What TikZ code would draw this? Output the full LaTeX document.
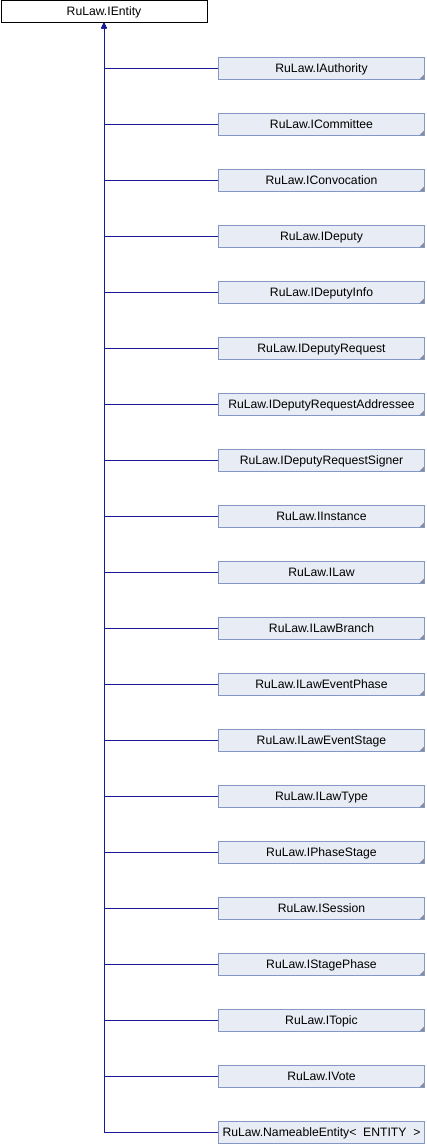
\documentclass[tikz,border=0pt]{standalone}
\usepackage{fontspec}
\setmainfont{Liberation Sans}
\usetikzlibrary{arrows.meta}
\begin{document}
\begin{tikzpicture}[x=1pt,y=-1pt]

  \tikzstyle{base} = [draw=black, fill=white, line width=1pt, minimum width=206pt, minimum height=22pt, inner sep=0pt, text height=8.8pt, text depth=0pt, font=\fontsize{12.2}{14}\selectfont]
  \tikzstyle{iface} = [base, draw=border, fill=boxfill,
    path picture={\fill[corner] (path picture bounding box.south east) -- ++(-5pt,0pt) -- ++(5pt,5pt) -- cycle;}]
  \tikzstyle{edge} = [line width=1pt, lines, -{Triangle[length=5pt,width=5pt]}]

  \definecolor{boxfill}{RGB}{232,236,244}
  \definecolor{border}{RGB}{132,152,200}
  \definecolor{corner}{RGB}{130,140,165}
  \definecolor{lines}{RGB}{25,25,150}

  \useasboundingbox (0,0) rectangle (426,1144);

  \node[base] (entity) at (104,11.5) {RuLaw.IEntity};

  \node[iface] (authority) at (321.5,68) {RuLaw.IAuthority};
  \node[iface] (committee) at (321.5,124) {RuLaw.ICommittee};
  \node[iface] (convocation) at (321.5,180) {RuLaw.IConvocation};
  \node[iface] (deputy) at (321.5,236) {RuLaw.IDeputy};
  \node[iface] (deputyinfo) at (321.5,292) {RuLaw.IDeputyInfo};
  \node[iface] (deputyrequest) at (321.5,348) {RuLaw.IDeputyRequest};
  \node[iface] (addressee) at (321.5,404) {RuLaw.IDeputyRequestAddressee};
  \node[iface] (signer) at (321.5,460) {RuLaw.IDeputyRequestSigner};
  \node[iface] (instance) at (321.5,516) {RuLaw.IInstance};
  \node[iface] (law) at (321.5,572) {RuLaw.ILaw};
  \node[iface] (lawbranch) at (321.5,628) {RuLaw.ILawBranch};
  \node[iface] (eventphase) at (321.5,684) {RuLaw.ILawEventPhase};
  \node[iface] (eventstage) at (321.5,740) {RuLaw.ILawEventStage};
  \node[iface] (lawtype) at (321.5,796) {RuLaw.ILawType};
  \node[iface] (phasestage) at (321.5,852) {RuLaw.IPhaseStage};
  \node[iface] (session) at (321.5,908) {RuLaw.ISession};
  \node[iface] (stagephase) at (321.5,964) {RuLaw.IStagePhase};
  \node[iface] (topic) at (321.5,1020) {RuLaw.ITopic};
  \node[iface] (vote) at (321.5,1076) {RuLaw.IVote};
  \node[base, draw=border, fill=boxfill] (nameable) at (321.5,1132) {RuLaw.NameableEntity<\ \ ENTITY\ \ >};

  \draw[edge] (authority) -| (entity);
  \draw[edge] (committee) -| (entity);
  \draw[edge] (convocation) -| (entity);
  \draw[edge] (deputy) -| (entity);
  \draw[edge] (deputyinfo) -| (entity);
  \draw[edge] (deputyrequest) -| (entity);
  \draw[edge] (addressee) -| (entity);
  \draw[edge] (signer) -| (entity);
  \draw[edge] (instance) -| (entity);
  \draw[edge] (law) -| (entity);
  \draw[edge] (lawbranch) -| (entity);
  \draw[edge] (eventphase) -| (entity);
  \draw[edge] (eventstage) -| (entity);
  \draw[edge] (lawtype) -| (entity);
  \draw[edge] (phasestage) -| (entity);
  \draw[edge] (session) -| (entity);
  \draw[edge] (stagephase) -| (entity);
  \draw[edge] (topic) -| (entity);
  \draw[edge] (vote) -| (entity);
  \draw[edge] (nameable) -| (entity);

\end{tikzpicture}
\end{document}
